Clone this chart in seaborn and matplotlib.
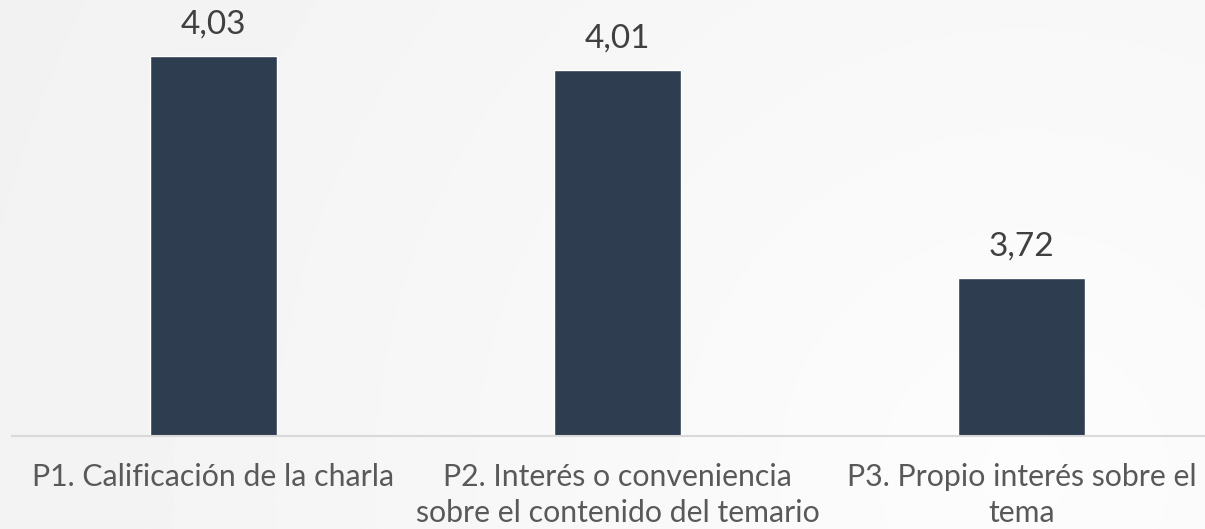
import matplotlib.pyplot as plt
import numpy as np
import pandas as pd
import seaborn as sns

categories = [
    "P1. Calificación de la charla",
    "P2. Interés o conveniencia\nsobre el contenido del temario",
    "P3. Propio interés sobre el\ntema",
]
scores = [4.03, 4.01, 3.72]
value_labels = ["4,03", "4,01", "3,72"]

BAR_COLOR = "#2e3d50"


def draw_background(fig):
    bg = fig.add_axes([0, 0, 1, 1], zorder=-10)
    yy, xx = np.mgrid[0:1:300j, 0:1:700j]
    # soft radial gradient, lightest toward lower right
    dist = np.sqrt(((xx - 0.85) * 2.28) ** 2 + ((yy - 0.1) * 1.0) ** 2)
    dist = np.clip(dist / 2.2, 0, 1)
    shade = 0.99 - 0.045 * dist
    bg.imshow(shade, cmap="gray", vmin=0, vmax=1, extent=[0, 1, 0, 1],
              aspect="auto", origin="lower")
    bg.axis("off")


def main() -> None:
    sns.set_theme(style="white")
    plt.rcParams["font.family"] = ["Lato", "DejaVu Sans"]

    df = pd.DataFrame({"pregunta": categories, "valor": scores})

    fig = plt.figure(figsize=(12.05, 5.29), dpi=100)
    draw_background(fig)

    left = 11.5 / 1205
    bottom = (529 - 436) / 529
    ax = fig.add_axes([left, bottom, 1 - left, 436 / 529])
    ax.set_facecolor("none")

    sns.barplot(data=df, x="pregunta", y="valor", color=BAR_COLOR,
                width=0.314, saturation=1, ax=ax)

    ax.set_ylim(3.5, 4.108)
    ax.set_xlim(-0.5, 2.454)
    ax.set_xlabel("")
    ax.set_ylabel("")
    ax.set_yticks([])
    for side in ["top", "right", "left"]:
        ax.spines[side].set_visible(False)
    ax.spines["bottom"].set_color("#d9d9d9")
    ax.spines["bottom"].set_linewidth(1.5)
    ax.tick_params(axis="x", length=0, pad=19.5, labelsize=21.8, labelcolor="#595959")
    for lbl in ax.get_xticklabels():
        lbl.set_linespacing(1.33)

    for i, (v, txt) in enumerate(zip(scores, value_labels)):
        ax.annotate(txt, (i, v), xytext=(0, 12), textcoords="offset points",
                    ha="center", va="bottom", fontsize=24, color="#404040")

    fig.savefig("out.png", dpi=100)
    plt.close(fig)


if __name__ == "__main__":
    main()
